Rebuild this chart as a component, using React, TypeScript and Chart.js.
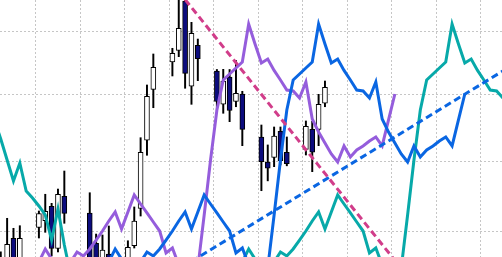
import React, { useEffect, useRef } from 'react';
import { Chart, registerables } from 'chart.js';

Chart.register(...registerables);

// ---- Candles (day index, OHLC) ----
const candleDays = [
  -5.5, -4.5, -3.5, -2.5,
  0.5, 1.5, 2.5, 3.5, 4.5,
  8.5, 9.5, 10.5, 11.5,
  14.5, 15.5, 16.5, 17.5, 18.5,
  21.5, 22.5, 23.5, 24.5, 25.5,
  28.5, 29.5, 30.5, 31.5, 32.5,
  35.5, 36.5, 37.5, 38.5, 39.5,
  42.5, 43.5, 44.5, 45.5,
];
const candleOpen = [
  174.93, 175.34, 178.99, 175.74,
  180.49, 181.44, 183.48, 177.61, 184.9,
  182.53, 178.3, 175.74, 176.83,
  175.74, 177.97, 183.19, 193.09, 200.85,
  205.13, 207.0, 215.04, 201.32, 207.8,
  203.71, 198.55, 202.74, 198.96, 200.09,
  193.55, 189.84, 190.56, 194.44, 191.3,
  191.74, 194.73, 194.73, 198.69,
];
const candleHigh = [
  177.11, 181.78, 180.38, 180.74,
  182.81, 185.19, 183.9, 185.94, 188.55,
  185.41, 179.58, 179.45, 180.7,
  178.65, 183.38, 193.47, 201.52, 206.41,
  207.32, 216.05, 215.71, 211.53, 208.81,
  203.95, 203.98, 203.95, 205.37, 200.54,
  195.38, 192.39, 195.08, 195.08, 193.58,
  195.99, 195.94, 200.07, 202.14,
];
const candleLow = [
  174.39, 174.39, 174.39, 174.66,
  179.03, 179.82, 176.56, 177.11, 181.08,
  174.39, 174.39, 174.93, 174.66,
  174.93, 177.65, 182.1, 190.86, 198.01,
  202.93, 205.98, 201.01, 198.53, 202.19,
  197.51, 197.16, 195.88, 198.16, 192.28,
  185.7, 187.12, 189.18, 189.43, 189.31,
  190.9, 188.45, 192.28, 198.16,
];
const candleClose = [
  175.74, 178.16, 175.34, 178.99,
  182.46, 182.77, 177.61, 185.19, 182.48,
  175.47, 175.47, 177.38, 175.47,
  177.75, 181.4, 191.3, 199.76, 204.3,
  206.52, 210.55, 203.35, 209.74, 205.66,
  198.96, 202.14, 197.58, 200.23, 194.73,
  189.91, 188.95, 193.7, 190.06, 189.62,
  195.18, 191.3, 198.53, 201.16,
];

// ---- Indicator line (same series drawn three times with different day shifts) ----
const lineDays = [
  -38.5, -37.5, -36.5, -35.5, -34.5, -33.5, -32.5, -31.5, -30.5, -29.5, -28.5, -27.5, -26.5,
  0.5, 1.5, 2.5, 5.5, 6.5, 7.5, 8.5, 9.5, 10.5, 11.5, 12.5, 13.5, 14.5, 15.5, 16.5, 17.5,
  18.5, 19.5, 20.5, 21.5, 22.5, 25.5, 26.5, 27.5, 28.5, 29.5, 30.5, 31.5, 32.5, 33.5, 34.5,
  35.5, 36.5, 37.5, 38.5, 39.5, 40.5, 41.5, 42.5, 43.5, 44.5, 45.5, 46.5, 47.5, 48.5, 49.5,
  50.5, 51.5, 52.5, 53.5, 54.5, 55.5, 56.5,
];
const lineValues = [
  196.14, 193.28, 190.16, 187.1, 189.72, 185.66, 184.66, 183.52, 182.25, 178.75, 183.09, 178.07, 173.98,
  175.74, 177.52, 176.15, 175.74, 177.11, 176.56, 177.52, 178.75, 180.0, 181.4, 182.67, 180.28, 182.67, 185.09, 183.8, 182.53,
  181.26, 180.0, 176.97, 177.65, 175.34, 174.93, 182.25, 190.16, 197.66, 202.3, 203.24, 204.19, 205.13, 211.25, 208.01,
  204.98, 205.61, 203.8, 202.3, 200.74, 200.59, 199.5, 201.99, 196.29, 194.32, 192.68, 191.05, 189.87, 192.24, 190.6,
  191.64, 192.24, 192.98, 193.58, 192.24, 196.14, 200.12,
];
const purpleShiftDays = 0;
const blueShiftDays = 11;
const tealShiftDays = 32;

// ---- Trend lines ----
const pinkTrendDays = [23.5, 56.5];
const pinkTrendValues = [215.29, 175.96];
const blueTrendDays = [24.5, 74.5];
const blueTrendValues = [175.81, 204.34];

// ---- Axes ----
const xTickValues = [0, 7, 14, 21, 28, 35, 42, 49, 56, 63, 70];
const yTickValues = [180, 190, 200, 210];
const xMin = -5.62;
const xMax = 73.35;
const yMin = 176.42;
const yMax = 215.21;

const NAVY = '#0c0c7e';
const BLUE = '#0a66e2';
const PURPLE = '#955ddc';
const TEAL = '#07a9a9';
const PINK = '#d13d8a';
const GRID = '#c6c6c6';

export default function App() {
  const ref = useRef<HTMLCanvasElement | null>(null);

  useEffect(() => {
    if (!ref.current) return;
    const shifted = (shift: number) => lineDays.map((d, i) => ({ x: d + shift, y: lineValues[i] }));
    const lineBase = {
      type: 'line' as const,
      borderWidth: 3,
      pointRadius: 0,
      tension: 0,
      fill: false,
    };
    const chart = new Chart(ref.current, {
      type: 'line',
      data: {
        datasets: [
          {
            ...lineBase,
            label: 'pink trend',
            data: pinkTrendDays.map((d, i) => ({ x: d, y: pinkTrendValues[i] })),
            borderColor: PINK,
            borderDash: [7, 4],
            order: 1,
          },
          {
            ...lineBase,
            label: 'blue trend',
            data: blueTrendDays.map((d, i) => ({ x: d, y: blueTrendValues[i] })),
            borderColor: BLUE,
            borderDash: [7, 4],
            order: 2,
          },
          { ...lineBase, label: 'blue', data: shifted(blueShiftDays), borderColor: BLUE, order: 3 },
          { ...lineBase, label: 'purple', data: shifted(purpleShiftDays), borderColor: PURPLE, order: 4 },
          { ...lineBase, label: 'teal', data: shifted(tealShiftDays), borderColor: TEAL, order: 5 },
          {
            type: 'bar',
            label: 'bodies',
            data: candleDays.map((d, i) => ({ x: d, y: [candleOpen[i], candleClose[i]] })) as any,
            backgroundColor: candleDays.map((_, i) => (candleClose[i] >= candleOpen[i] ? '#ffffff' : NAVY)),
            borderColor: '#000000',
            borderWidth: 1,
            borderSkipped: false,
            barThickness: 5,
            grouped: false,
            order: 8,
          } as any,
          {
            type: 'bar',
            label: 'wicks',
            data: candleDays.map((d, i) => ({ x: d, y: [candleLow[i], candleHigh[i]] })) as any,
            backgroundColor: '#000000',
            borderWidth: 0,
            barThickness: 1.3,
            grouped: false,
            order: 9,
          } as any,
        ],
      },
      options: {
        animation: false,
        responsive: false,
        maintainAspectRatio: false,
        devicePixelRatio: 1,
        events: [],
        layout: { padding: 0 },
        plugins: {
          legend: { display: false },
          tooltip: { enabled: false },
          title: { display: false },
        },
        scales: {
          x: {
            type: 'linear',
            min: xMin,
            max: xMax,
            bounds: 'data',
            offset: false,
            afterBuildTicks: (s: any) => {
              s.ticks = xTickValues.map((v) => ({ value: v }));
            },
            ticks: { display: false },
            grid: { color: GRID, lineWidth: 1, drawTicks: false, offset: false },
            border: { display: false, dash: [2, 2] },
          },
          y: {
            type: 'logarithmic',
            min: yMin,
            max: yMax,
            bounds: 'data',
            afterBuildTicks: (s: any) => {
              s.ticks = yTickValues.map((v) => ({ value: v }));
            },
            ticks: { display: false },
            grid: { color: GRID, lineWidth: 1, drawTicks: false },
            border: { display: false, dash: [2, 2] },
          },
        },
      } as any,
    });
    return () => chart.destroy();
  }, []);

  return (
    <div style={{ position: 'fixed', left: 0, top: 0, width: 502, height: 257, background: '#fff' }}>
      <canvas ref={ref} width={502} height={257} style={{ display: 'block', width: 502, height: 257 }} />
    </div>
  );
}
